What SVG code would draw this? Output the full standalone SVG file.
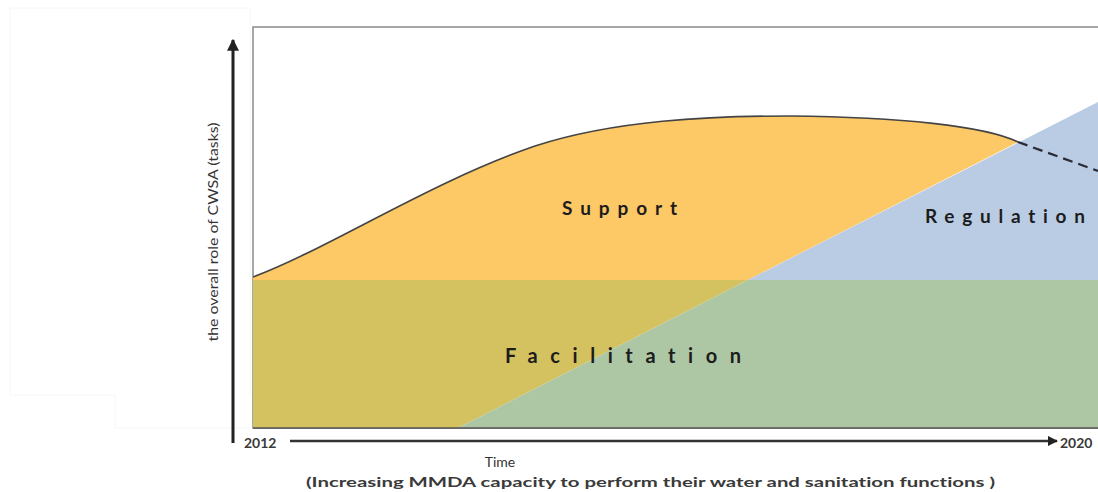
<svg xmlns="http://www.w3.org/2000/svg" width="1098" height="492" viewBox="0 0 1098 492">
<style>
text{font-variant-ligatures:none;}
.lbl{font-family:Lato,"Liberation Sans",sans-serif;font-weight:bold;fill:#1c1c1c;}
.ax{font-family:Lato,"Liberation Sans",sans-serif;fill:#333;}
.axb{font-family:Lato,"Liberation Sans",sans-serif;font-weight:bold;fill:#3a3a3a;}
</style>
<defs>
<marker id="ah" viewBox="0 0 10 10" refX="9" refY="5" markerWidth="4" markerHeight="4" orient="auto" markerUnits="strokeWidth">
<path d="M0,0 L10,5 L0,10 Z" fill="#222"/>
</marker>
</defs>
<rect x="0" y="0" width="1098" height="492" fill="#fff"/>
<polyline points="10,8 250,8 250,395" fill="none" stroke="#f6f6f6" stroke-width="1"/>
<polyline points="10,8 10,395 115,395 115,428 250,428" fill="none" stroke="#f6f6f6" stroke-width="1"/>
<g id="frame">
<rect x="253" y="27" width="900" height="401" fill="#fff" stroke="#8a8a8a" stroke-width="1.5"/>
</g>
<g id="facilitation">
<polygon points="253,280 748,280 458,428 253,428" fill="#d3c25f"/>
<polygon points="748,280 1098,280 1098,428 458,428" fill="#adc6a3"/>
<text class="lbl" x="505" y="363" font-size="20" textLength="236" lengthAdjust="spacing">Facilitation</text>
</g>
<g id="support">
<path d="M253,280 L253,277 C330,248 430,182 535,146 C615,120 710,116 790,116 C900,117 985,126 1018,142 L748,280 Z" fill="#fdc866"/>
<path d="M253,277 C330,248 430,182 535,146 C615,120 710,116 790,116 C900,117 985,126 1018,142" fill="none" stroke="#444" stroke-width="1.6"/>
<text class="lbl" x="562" y="215" font-size="19" textLength="115" lengthAdjust="spacing">Support</text>
</g>
<g id="regulation">
<polygon points="748,280 1098,102 1098,280" fill="#b9cce4"/>
<text class="lbl" x="925" y="223" font-size="19" textLength="160" lengthAdjust="spacing" fill="#1e2633">Regulation</text>
</g>
<line x1="253" y1="428" x2="1098" y2="428" stroke="#555" stroke-width="1.5"/>
<g id="connectors">
<line x1="1018" y1="142" x2="1098" y2="171" stroke="#2a2a35" stroke-width="2.2" stroke-dasharray="10,6"/>
<line x1="233" y1="443" x2="233" y2="40" stroke="#222" stroke-width="3" marker-end="url(#ah)"/>
<line x1="290" y1="441" x2="1057" y2="441" stroke="#333" stroke-width="2.6" marker-end="url(#ah)"/>
</g>
<g id="axis-labels">
<text class="ax" transform="translate(218,232) rotate(-90)" text-anchor="middle" font-size="14" fill="#444" textLength="219" lengthAdjust="spacingAndGlyphs">the overall role of CWSA (tasks)</text>
<text class="axb" x="244" y="448" font-size="14">2012</text>
<text class="axb" x="1060" y="448" font-size="14">2020</text>
<text class="ax" x="500" y="467" font-size="14" text-anchor="middle">Time</text>
<text class="axb" x="306" y="487" font-size="14" textLength="689" lengthAdjust="spacingAndGlyphs">(Increasing MMDA capacity to perform their water and sanitation functions )</text>
</g>
</svg>
